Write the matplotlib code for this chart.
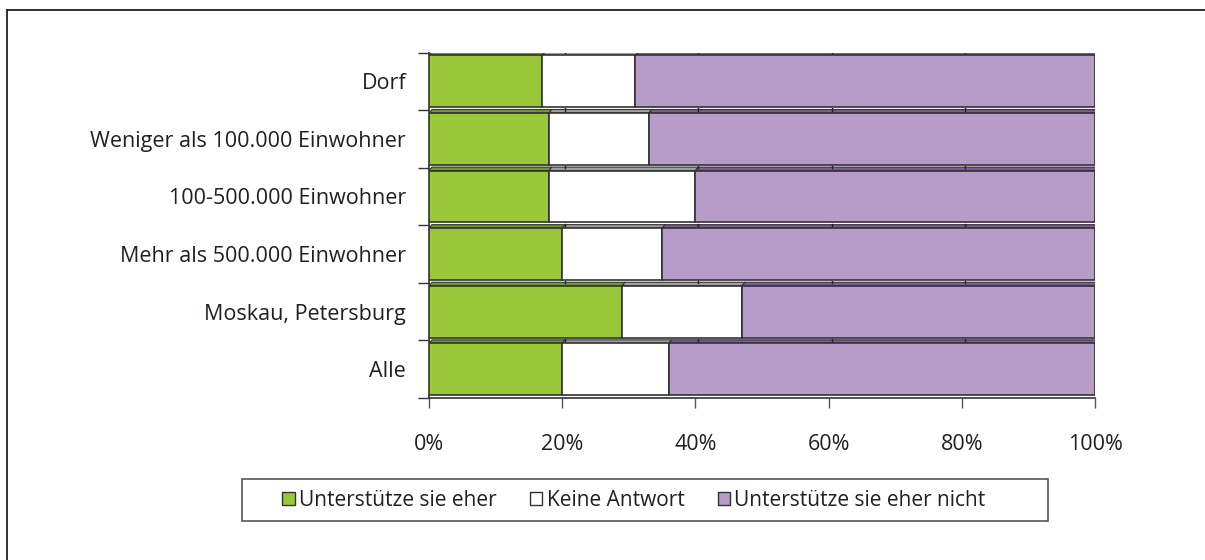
import matplotlib
matplotlib.use('Agg')
import matplotlib.pyplot as plt
from matplotlib.patches import Polygon, Rectangle, Patch
from matplotlib.lines import Line2D

plt.rcParams['font.family'] = ['Open Sans', 'DejaVu Sans']

categories = ['Dorf', 'Weniger als 100.000 Einwohner', '100-500.000 Einwohner',
              'Mehr als 500.000 Einwohner', 'Moskau, Petersburg', 'Alle']
support = [17, 18, 18, 20, 29, 20]
no_answer = [14, 15, 22, 15, 18, 16]
against = [69, 67, 60, 65, 53, 64]
series_names = ['Unterstütze sie eher', 'Keine Antwort', 'Unterstütze sie eher nicht']
tick_values = [0, 20, 40, 60, 80, 100]

colors = ['#9bc83b', '#ffffff', '#b79bc9']
top_colors = ['#6f9a2a', '#a0a0a0', '#7d5a9a']
txt = '#231f20'
fs = 15.5

fig = plt.figure(figsize=(12.05, 5.6), dpi=100)
ax = fig.add_axes([429/1205, 1-398/560, 666/1205, 345.5/560])

y = list(range(len(categories)))
h = 0.9
dx, dy = 0.45, 0.06   # fake 3d depth
left = [0]*len(categories)
for vals, c, tc in zip([support, no_answer, against], colors, top_colors):
    ax.barh(y, vals, left=left, height=h, color=c, edgecolor='#333333', linewidth=1.2, zorder=3)
    for yi, v, l in zip(y, vals, left):
        top = yi - h/2
        poly = Polygon([(l, top), (l+dx, top-dy), (l+v+dx, top-dy), (l+v, top)],
                       closed=True, facecolor=tc, edgecolor='#333333', linewidth=0.8, zorder=2)
        ax.add_patch(poly)
    left = [a+b for a, b in zip(left, vals)]

# right side face of last segment + small back ticks
for yi in y:
    top = yi - h/2
    ax.add_patch(Polygon([(100, top), (100+dx, top-dy), (100+dx, top+h-dy), (100, top+h)],
                         closed=True, facecolor='#7d5a9a', edgecolor='#333333', linewidth=0.8, zorder=2))
    for t in tick_values[1:-1]:
        ax.plot([t+dx, t+dx], [top-dy-0.02, top-dy+0.02], color='#222222', lw=1, zorder=2.5)

ax.set_xlim(0, 100)
ax.set_ylim(len(categories)-0.5, -0.5)
ax.set_xticks(tick_values)
ax.set_xticklabels([f'{t}%' for t in tick_values])
ax.set_yticks([i-0.5 for i in range(len(categories)+1)], minor=False)
ax.set_yticklabels([])
ax.set_yticks(y, minor=True)
ax.set_yticklabels(categories, minor=True)
ax.tick_params(axis='y', which='major', length=8, width=1, color='#333333', direction='out')
ax.tick_params(axis='y', which='minor', length=0, pad=16.5, labelsize=fs, labelcolor=txt)
ax.tick_params(axis='x', length=7, width=1, color='#555555', pad=19, labelsize=fs, labelcolor=txt)
for s in ['top', 'right']:
    ax.spines[s].set_visible(False)
ax.spines['left'].set_color('#333333')
ax.spines['bottom'].set_color('#333333')
ax.spines['left'].set_linewidth(1.2)
ax.spines['bottom'].set_linewidth(1.2)
ax.patch.set_alpha(0)

# outer frame (top and left only)
fig.add_artist(Line2D([7/1205, 1], [1-10/560, 1-10/560], color='#222222', lw=1.3))
fig.add_artist(Line2D([7/1205, 7/1205], [1-10/560, 0], color='#222222', lw=1.3))

# legend box
fig.add_artist(Rectangle((242/1205, 1-521/560), 806/1205, 42/560, transform=fig.transFigure,
                         facecolor='white', edgecolor='#555555', lw=1.2))
handles = [Patch(facecolor=c, edgecolor='#333333', linewidth=1.0) for c in colors]
fig.legend(handles, series_names, loc='center', bbox_to_anchor=(634/1205, 1-500/560),
           ncol=3, frameon=False, fontsize=15, handlelength=0.6, handleheight=0.6,
           handletextpad=0.2, columnspacing=1.6, labelcolor=txt)

fig.savefig('out.png', dpi=100)
